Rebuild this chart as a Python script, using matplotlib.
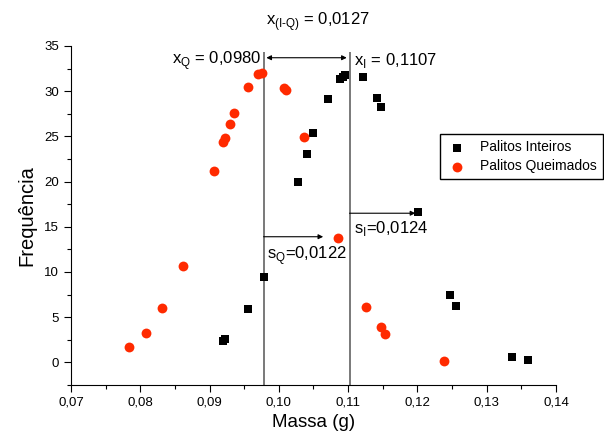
import numpy as np
import matplotlib
matplotlib.use("Agg")
import matplotlib.pyplot as plt
from matplotlib.ticker import MultipleLocator, FuncFormatter

plt.rcParams['font.family'] = ['Liberation Sans', 'DejaVu Sans']

# Palitos Inteiros (black squares)
massa_inteiros = [0.0920, 0.0923, 0.0956, 0.0978, 0.1027, 0.1040, 0.1050, 0.1071,
                  0.1089, 0.1093, 0.1096, 0.1122, 0.1142, 0.1148, 0.1201, 0.1247,
                  0.1256, 0.1336, 0.1360]
freq_inteiros = [2.4, 2.6, 5.9, 9.5, 19.9, 23.0, 25.4, 29.1,
                 31.3, 31.6, 31.8, 31.6, 29.2, 28.3, 16.6, 7.45,
                 6.2, 0.63, 0.27]

# Palitos Queimados (red circles)
massa_queimados = [0.0784, 0.0808, 0.0832, 0.0861, 0.0906, 0.0920, 0.0923, 0.0929,
                   0.0935, 0.0955, 0.0970, 0.0975, 0.1007, 0.1010, 0.1037, 0.1085,
                   0.1126, 0.1148, 0.1153, 0.1239]
freq_queimados = [1.7, 3.2, 6.0, 10.7, 21.2, 24.4, 24.8, 26.4,
                  27.6, 30.5, 31.9, 32.0, 30.4, 30.1, 24.9, 13.8,
                  6.1, 3.9, 3.1, 0.15]

x_q = 0.0978
x_i = 0.1102
s_q_end = 0.1064
s_i_end = 0.1197

fig = plt.figure(figsize=(6.04, 4.40), dpi=100)
ax = fig.add_axes([0.1175, 0.125, 0.803, 0.7705])

ax.scatter(massa_inteiros, freq_inteiros, marker='s', s=26, color='black',
           linewidths=0, label='Palitos Inteiros', zorder=3)
ax.scatter(massa_queimados, freq_queimados, marker='o', s=50, color='#ff2a00',
           linewidths=0, label='Palitos Queimados', zorder=3)

# vertical lines at the means
ax.vlines([x_q, x_i], -2.5, 34.3, color='#555555', lw=1.1, zorder=2)

# difference arrow
ax.annotate('', xy=(x_q + 0.0004, 33.7), xytext=(x_i - 0.0004, 33.7),
            arrowprops=dict(arrowstyle='<|-|>', color='black', lw=0.8,
                            mutation_scale=7, shrinkA=0, shrinkB=0))
# standard deviation arrows
ax.annotate('', xy=(s_q_end, 13.9), xytext=(x_q, 13.9),
            arrowprops=dict(arrowstyle='-|>', color='black', lw=0.8,
                            mutation_scale=7, shrinkA=0, shrinkB=0))
ax.annotate('', xy=(s_i_end, 16.5), xytext=(x_i, 16.5),
            arrowprops=dict(arrowstyle='-|>', color='black', lw=0.8,
                            mutation_scale=7, shrinkA=0, shrinkB=0))

ax.text(x_q - 0.0004, 33.4, r'x$_\mathregular{Q}$ = 0,0980', ha='right', va='center', fontsize=12)
ax.text(x_i + 0.0006, 33.4, r'x$_\mathregular{I}$ = 0,1107', ha='left', va='center', fontsize=12)
ax.text(x_q + 0.0005, 11.8, r's$_\mathregular{Q}$=0,0122', ha='left', va='center', fontsize=12)
ax.text(x_i + 0.0006, 14.8, r's$_\mathregular{I}$=0,0124', ha='left', va='center', fontsize=12)
fig.text(0.527, 0.952, 'x$_\\mathregular{(I\u2010Q)}$ = 0,0127', ha='center', va='center', fontsize=12)

ax.set_xlim(0.07, 0.14)
ax.set_ylim(-2.5, 35)
ax.xaxis.set_major_locator(MultipleLocator(0.01))
ax.xaxis.set_minor_locator(MultipleLocator(0.005))
ax.yaxis.set_major_locator(MultipleLocator(5))
ax.yaxis.set_minor_locator(MultipleLocator(2.5))
ax.xaxis.set_major_formatter(FuncFormatter(lambda v, p: f'{v:.2f}'.replace('.', ',')))
ax.set_yticks(np.arange(0, 36, 5))
ax.tick_params(which='major', direction='out', length=5, width=0.8, labelsize=9.5)
ax.tick_params(which='minor', direction='out', length=3, width=0.8)

for side in ['top', 'right']:
    ax.spines[side].set_visible(False)

ax.set_xlabel('Massa (g)', fontsize=13.5, labelpad=4)
ax.set_ylabel('Frequência', fontsize=14.5, labelpad=6)

ax.legend(loc='upper left', bbox_to_anchor=(0.761, 0.74), fontsize=10,
          frameon=True, fancybox=False, edgecolor='black', framealpha=1,
          handletextpad=0.8, borderpad=0.45, labelspacing=0.35, handlelength=1.6,
          borderaxespad=0)

fig.savefig('out.png', dpi=100)
